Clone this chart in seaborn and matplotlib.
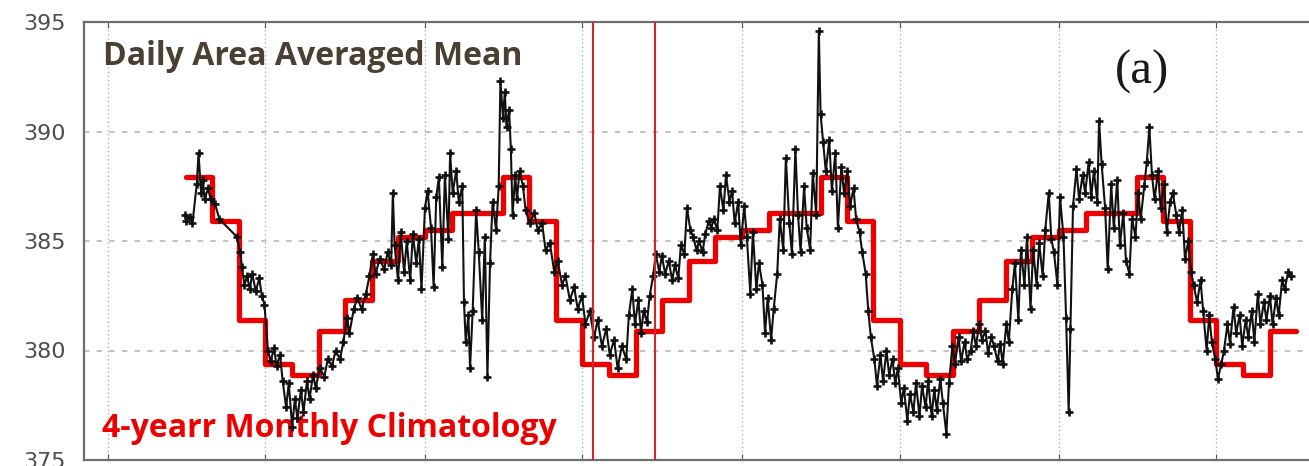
import matplotlib
matplotlib.use("Agg")
import matplotlib.pyplot as plt
import seaborn as sns
import pandas as pd

# daily area averaged mean (days after 2010-01-01, value)
day_offsets = [
    88, 90, 94, 97, 102, 104, 107, 109, 111, 115, 118, 123, 128,
    148, 152, 154, 157, 160, 163, 166, 170, 174, 177, 180, 184, 187, 191, 194,
    198, 201, 205, 208, 212, 215, 218, 222, 225, 229, 232, 236, 239, 244, 249,
    253, 258, 262, 267,
    271, 275, 278, 283, 287, 292, 297, 301, 305, 308, 313, 318, 322, 326, 328,
    330, 334, 337, 341, 344, 348, 351, 355, 358, 361, 365, 368, 372, 375, 378,
    381, 385, 388, 392, 394, 397, 401, 404, 408, 410, 412, 415, 417, 420, 424,
    427, 431, 434, 437, 440, 443, 447, 450,
    452, 455, 457, 459, 462, 464, 466, 469, 471, 474, 478, 481, 486, 491, 495,
    500, 504, 509, 514, 518, 523, 527, 532, 537, 541, 546, 550, 555, 560, 564,
    569, 574, 578, 583, 587, 592, 597, 600, 604, 607, 611, 614, 617, 621, 624,
    628, 631, 635, 638,
    642, 646, 650, 653, 657, 660, 664, 667, 671, 674, 678, 681, 685, 688, 692,
    695, 698, 702, 705, 709, 712, 716, 719, 722, 726, 729, 733, 736, 740, 743,
    747, 750, 754, 757, 760, 764, 767, 771, 774, 778, 781, 785, 788, 792, 795,
    798, 802, 805, 809, 812, 816, 819, 821, 824, 827, 831,
    834, 838, 841, 845, 848, 852, 855, 859, 862, 866, 869, 873, 876, 879, 883,
    886, 890, 893, 897, 900, 904, 907, 910, 914, 917, 921, 924, 928, 931, 935,
    938, 942, 945, 949, 952, 955, 959, 962, 966, 969, 973, 976, 980, 983, 987,
    990, 994, 997, 1000, 1004, 1007, 1011, 1014, 1018, 1021, 1025,
    1028, 1031, 1035, 1038, 1042, 1045, 1049, 1052, 1056, 1059, 1063, 1066,
    1070, 1073, 1077, 1080, 1084, 1087, 1090, 1094, 1097, 1101, 1104, 1107,
    1109, 1112, 1116, 1119, 1123, 1126, 1130, 1133, 1136, 1140, 1142, 1145,
    1149, 1152, 1156, 1159, 1163, 1166, 1170, 1173, 1177, 1180, 1184, 1187,
    1190, 1194, 1197, 1200, 1203, 1206, 1210, 1213, 1217, 1220, 1224, 1227,
    1231, 1234, 1238, 1241, 1245, 1248, 1251, 1255, 1259, 1262, 1266, 1269,
    1272, 1276, 1279, 1283, 1286, 1290, 1293, 1297, 1300, 1304, 1307, 1311,
    1314, 1318, 1321, 1325, 1328, 1332, 1335, 1339, 1342, 1346, 1349, 1353,
    1356, 1360, 1363,
]
daily_xco2 = [
    386.2, 385.9, 386.1, 385.8, 387.6, 389.0, 387.2, 387.8, 386.9, 387.4, 386.9, 386.7, 386.0,
    385.2, 384.5, 383.8, 383.0, 383.4, 382.8, 383.5, 382.7, 383.3, 382.5, 382.1, 380.0, 379.5, 380.1, 379.3,
    379.8, 378.6, 377.4, 378.5, 376.5, 377.8, 376.9, 378.2, 377.2, 378.6, 377.8, 378.9, 378.3, 379.2, 378.8,
    379.6, 379.3, 380.0, 379.6,
    380.4, 381.5, 380.8, 381.9, 382.4, 381.9, 382.6, 383.4, 384.4, 383.5, 384.2, 383.7, 384.5, 383.9, 387.2,
    384.8, 383.2, 385.4, 383.6, 385.0, 383.2, 385.3, 384.0, 385.1, 382.8, 386.5, 387.3, 385.6, 382.9, 387.0,
    387.9, 383.8, 388.0, 385.1, 389.0, 387.2, 388.2, 386.8, 387.5, 382.2, 380.4, 381.6, 379.2, 381.8, 386.4,
    384.5, 381.4, 385.2, 378.8, 384.0, 386.8, 385.5, 387.5,
    392.3, 390.6, 391.8, 390.2, 391.0, 389.2, 386.2, 388.0, 386.9, 388.2, 387.5, 386.4, 385.8, 386.3, 385.5,
    385.8, 384.6, 384.9, 383.6, 384.1, 383.0, 383.4, 382.3, 382.9, 381.9, 382.5, 381.2, 381.8, 380.6, 381.4,
    380.2, 381.0, 379.8, 380.5, 379.2, 380.2, 379.6, 381.6, 382.8, 381.2, 382.3, 380.8, 381.8, 381.3, 382.5,
    383.4, 384.4, 383.6, 384.3,
    383.5, 384.1, 383.2, 383.9, 383.3, 384.8, 384.4, 386.5, 385.5, 385.2, 384.6, 385.0, 384.5, 385.3, 385.9,
    385.6, 386.0, 385.5, 387.5, 386.4, 388.0, 386.8, 387.3, 385.8, 386.8, 384.8, 386.6, 385.2, 382.6, 385.4,
    382.8, 384.0, 383.0, 380.8, 382.4, 380.5, 381.9, 383.5, 386.0, 384.6, 388.8, 385.8, 384.4, 389.2, 386.2,
    384.5, 387.5, 385.6, 384.6, 388.1, 386.2, 394.6, 390.8, 389.5, 388.2, 389.6,
    387.3, 389.0, 385.6, 388.4, 387.2, 388.2, 386.6, 387.4, 386.0, 385.4, 384.5, 383.5, 381.8, 380.6, 379.6,
    378.4, 379.8, 378.6, 380.0, 378.9, 379.6, 378.5, 379.2, 377.6, 378.3, 376.8, 378.0, 377.2, 378.5, 377.0,
    378.4, 377.4, 378.6, 377.0, 378.2, 377.3, 378.7, 377.6, 376.2, 378.5, 380.2, 379.4, 380.6, 379.5, 380.4,
    379.6, 380.0, 380.9, 380.2, 381.2, 380.5, 380.9, 379.9, 380.6, 380.2, 379.5,
    380.3, 379.4, 381.2, 380.4, 382.8, 384.0, 381.4, 384.6, 383.0, 385.2, 381.9, 384.6,
    383.0, 384.9, 383.4, 385.5, 387.2, 385.1, 384.5, 383.0, 387.0, 385.2, 381.5, 377.2,
    381.0, 386.6, 388.3, 386.9, 388.0, 387.2, 388.6, 387.0, 388.2, 386.8, 390.5, 388.5,
    386.5, 383.7, 387.6, 385.6, 387.8, 384.8, 386.3, 384.1, 383.5, 386.0, 385.2, 387.2,
    386.0, 387.5, 388.6, 390.2, 388.0, 386.9, 388.2, 386.5, 387.6, 385.4, 386.8, 387.2,
    386.2, 385.4, 386.4, 384.2, 385.0, 383.6, 383.0, 382.2, 383.2, 381.8, 380.0, 381.6,
    380.4, 379.6, 378.7, 379.4, 380.0, 381.2, 380.3, 382.0, 380.8, 381.6, 380.2, 381.4,
    380.6, 381.8, 380.4, 382.6, 381.2, 382.2, 381.4, 382.5, 381.2, 382.4, 381.6, 383.2,
    382.8, 383.6, 383.4,
]

# 4-year monthly climatology, Jan..Dec
clim_months = [1, 2, 3, 4, 5, 6, 7, 8, 9, 10, 11, 12]
clim_values = [385.5, 386.3, 386.3, 387.9, 385.9, 381.4, 379.4, 378.9, 380.9, 382.3, 384.1, 385.2]
clim_start, clim_end = "2010-04-01", "2013-10-01"

marker_dates = ["2011-07-14", "2011-09-23"]
y_ticks = [375, 380, 385, 390, 395]

base = pd.Timestamp("2010-01-01")
daily = pd.DataFrame({
    "date": base + pd.to_timedelta(day_offsets, unit="D"),
    "xco2": daily_xco2,
})

month_starts = pd.date_range(clim_start, clim_end, freq="MS")
lookup = dict(zip(clim_months, clim_values))
clim = pd.DataFrame({"date": month_starts})
# last edge repeats the final month so the step closes at clim_end
clim["xco2"] = [lookup[d.month] for d in month_starts[:-1]] + [lookup[month_starts[-2].month]]

sns.set_style("white")
plt.rcParams["font.family"] = ["DejaVu Sans"]

fig = plt.figure(figsize=(13.09, 4.66), dpi=100)
ax = fig.add_axes([84 / 1309, 6 / 466, 1 - 84 / 1309, 438 / 466])

sns.lineplot(data=clim, x="date", y="xco2", ax=ax, color="#ee0000", lw=3.8,
             drawstyle="steps-post", zorder=2)
sns.lineplot(data=daily, x="date", y="xco2", ax=ax, color="#111111", lw=1.5,
             marker="+", markersize=6, markeredgecolor="#111111",
             markeredgewidth=1.9, zorder=3)

for d in marker_dates:
    ax.axvline(pd.Timestamp(d), color="#cc2a2a", lw=1.5, zorder=4)

ax.set_xlim(base - pd.Timedelta(days=28), base + pd.Timedelta(days=1384))
ax.set_ylim(375, 395)
ax.set_xticks(pd.date_range("2010-01-01", periods=8, freq="6MS"))
ax.set_yticks(y_ticks)
ax.set_yticklabels([str(t) for t in y_ticks])
ax.set_xlabel("")
ax.set_ylabel("")

ax.xaxis.grid(True, linestyle=(0, (1, 2)), color="#b0b0b0", lw=1.0)
ax.yaxis.grid(True, linestyle=(0, (3, 4)), color="#bdbdbd", lw=1.3)
ax.set_axisbelow(True)

ax.tick_params(axis="x", direction="in", length=4, top=True, bottom=True,
               labelbottom=False, color="#555")
ax.tick_params(axis="y", direction="in", length=3, labelsize=16,
               labelcolor="#4d4d4d", pad=13, color="#555")

for side in ["left", "top", "bottom"]:
    ax.spines[side].set_color("#6e6e6e")
    ax.spines[side].set_linewidth(1.6)
ax.spines["right"].set_visible(False)

ax.text(0.0155, 0.902, "Daily Area Averaged Mean", transform=ax.transAxes,
        fontsize=23, fontweight="bold", family=["Open Sans", "DejaVu Sans"],
        color="#4a3f33", va="baseline", ha="left", zorder=1)
ax.text(0.0147, 0.0525, "4-yearr Monthly Climatology", transform=ax.transAxes,
        fontsize=23, fontweight="bold", family=["Open Sans", "DejaVu Sans"],
        color="#ee0000", va="baseline", ha="left", zorder=1)
ax.text(0.8637, 0.886, "(a)", transform=ax.transAxes, fontsize=35,
        family=["Liberation Serif", "DejaVu Serif"], color="#1a1a1a",
        va="center", ha="center")

fig.savefig("out.png", dpi=100)
plt.close(fig)
